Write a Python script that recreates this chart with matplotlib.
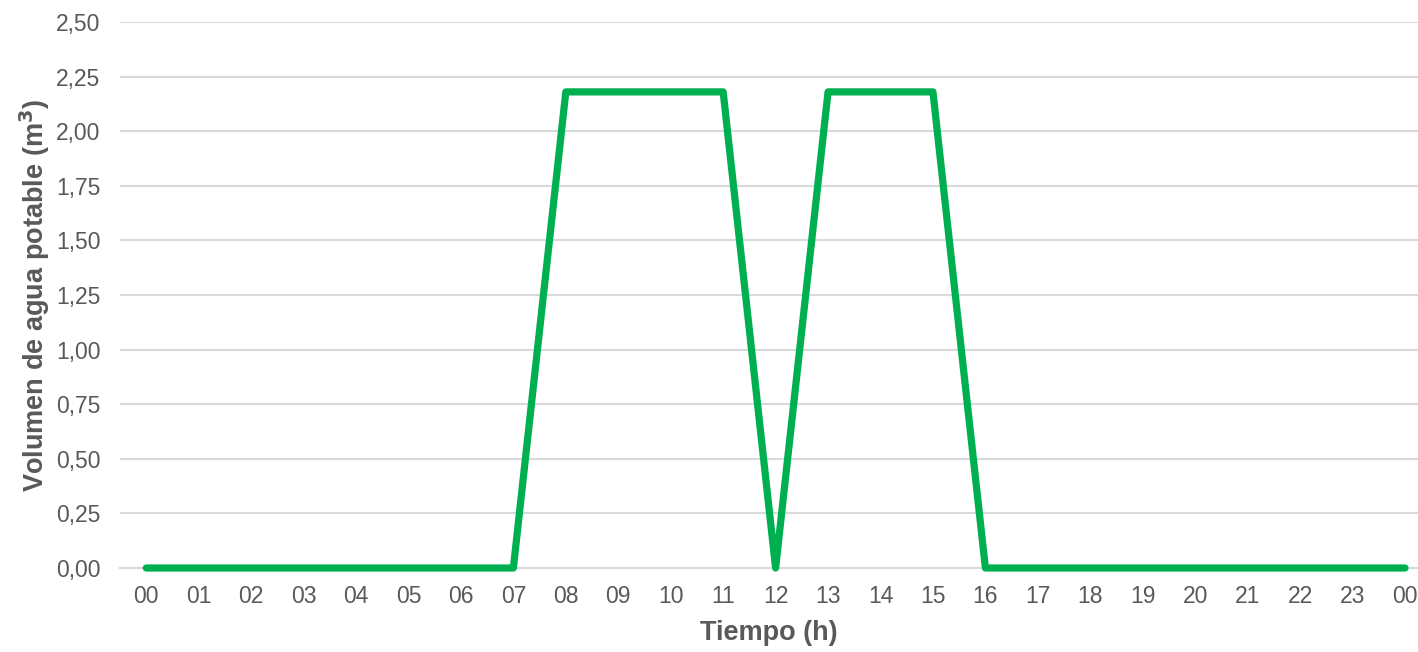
import matplotlib
matplotlib.use("Agg")
import matplotlib.pyplot as plt
from matplotlib.ticker import FuncFormatter

hours = ["00", "01", "02", "03", "04", "05", "06", "07", "08", "09", "10", "11",
         "12", "13", "14", "15", "16", "17", "18", "19", "20", "21", "22", "23", "00"]
volumen = [0, 0, 0, 0, 0, 0, 0, 0, 2.18, 2.18, 2.18, 2.18,
           0, 2.18, 2.18, 2.18, 0, 0, 0, 0, 0, 0, 0, 0, 0]
yticks = [0, 0.25, 0.5, 0.75, 1.0, 1.25, 1.5, 1.75, 2.0, 2.25, 2.5]

plt.rcParams['font.family'] = ['Liberation Sans', 'DejaVu Sans']
fig = plt.figure(figsize=(14.18, 6.52), dpi=100)
ax = fig.add_axes([120/1418, (652-568)/652, 1 - 120/1418, (568-22)/652])

x = list(range(len(hours)))
ax.plot(x, volumen, color="#00B050", lw=5.2, solid_joinstyle="round",
        solid_capstyle="round", zorder=3, clip_on=False)

ax.set_xlim(-0.5, 24 + 13/52.4)
ax.set_ylim(0, 2.5)
ax.set_xticks(x)
ax.set_xticklabels(hours)
ax.set_yticks(yticks)
ax.yaxis.set_major_formatter(FuncFormatter(lambda v, p: f"{v:.2f}".replace(".", ",")))
ax.grid(axis="y", color="#D9D9D9", lw=1.5, zorder=0)
for s in ["top", "right", "left"]:
    ax.spines[s].set_visible(False)
ax.spines["bottom"].set_color("#D9D9D9")
ax.spines["bottom"].set_linewidth(1.5)
ax.tick_params(axis="both", length=0, labelsize=16.5, colors="#595959")
ax.tick_params(axis="y", pad=14)
ax.tick_params(axis="x", pad=12)

ax.set_xlabel("Tiempo (h)", fontsize=19.5, fontweight="bold", color="#595959", labelpad=9)
ax.set_ylabel("Volumen de agua potable (m$^\\mathbf{3}$)", fontsize=19.5, fontweight="bold",
              color="#595959", labelpad=3)

fig.savefig("out.png", dpi=100)
